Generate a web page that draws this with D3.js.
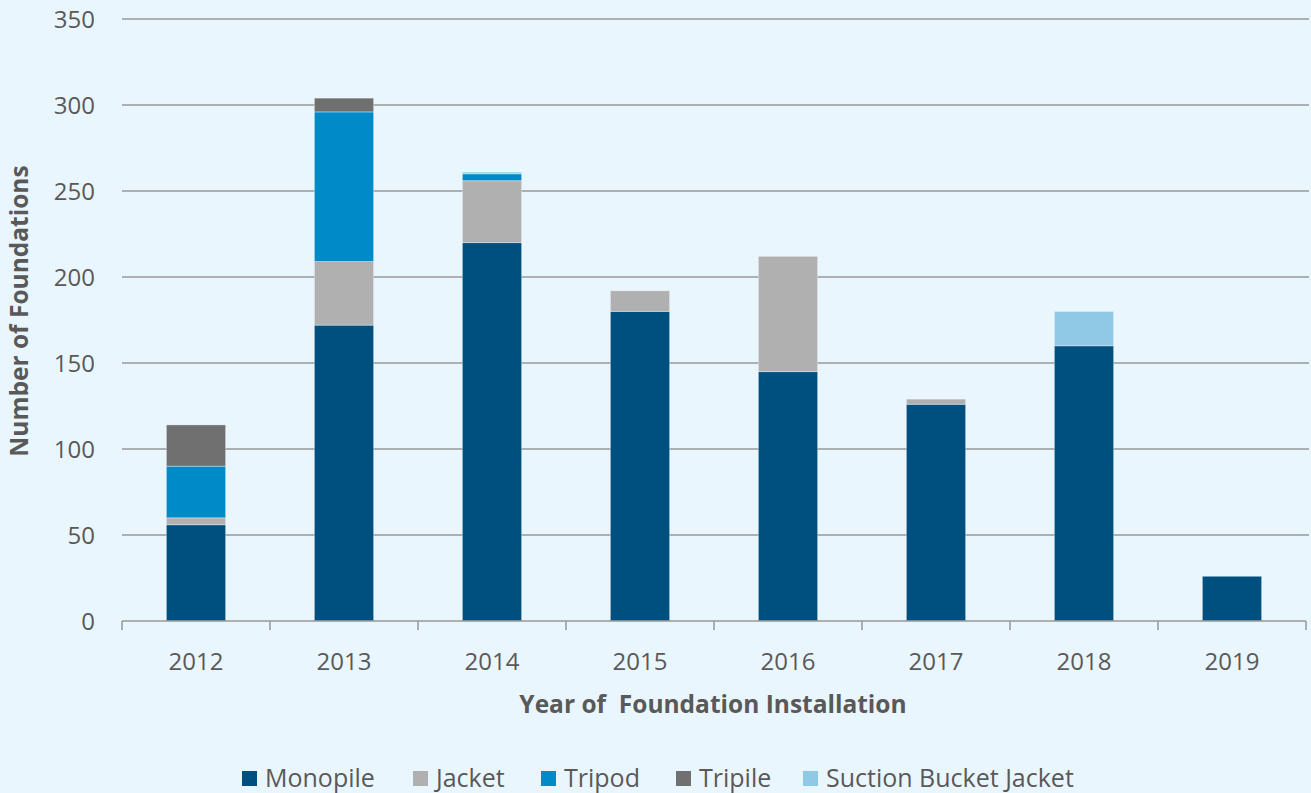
<!DOCTYPE html>
<html>
<head>
<meta charset="utf-8">
<script src="https://cdn.jsdelivr.net/npm/d3@7"></script>
<style>
  body { margin: 0; background: #eaf6fe; }
  svg { display: block; font-family: "Open Sans", sans-serif; }
</style>
</head>
<body>
<svg id="chart" width="1311" height="793"></svg>
<script>
const years = ["2012", "2013", "2014", "2015", "2016", "2017", "2018", "2019"]
const types = ["Monopile", "Jacket", "Tripod", "Tripile", "Suction Bucket Jacket"]
const monopile = [56, 172, 220, 180, 145, 126, 160, 26]
const jacket = [4, 37, 36, 12, 67, 3, 0, 0]
const tripod = [30, 87, 4, 0, 0, 0, 0, 0]
const tripile = [24, 8, 0, 0, 0, 0, 0, 0]
const suction = [0, 0, 1, 0, 0, 0, 20, 0]
const yTicks = [0, 50, 100, 150, 200, 250, 300, 350]

const colors = ["#00507f", "#b0b0b0", "#008bc8", "#707070", "#8ecae6"]

const w = 1311
const h = 793
const svg = d3.select("#chart")

const x = d3.scaleBand(years, [122, 1306]).paddingInner(0.6).paddingOuter(0.3)
const y = d3.scaleLinear([0, 350], [621, 19])

const rows = years.map((yr, i) => ({
  year: yr,
  Monopile: monopile[i],
  Jacket: jacket[i],
  Tripod: tripod[i],
  Tripile: tripile[i],
  "Suction Bucket Jacket": suction[i],
}))
const series = d3.stack().keys(types)(rows)

// gridlines
svg
  .append("g")
  .selectAll("line.grid")
  .data(yTicks.filter((d) => d > 0))
  .join("line")
  .attr("x1", 122)
  .attr("x2", 1309)
  .attr("y1", (d) => y(d))
  .attr("y2", (d) => y(d))
  .attr("stroke", "#999")
  .attr("stroke-width", 1.5)

// y labels
svg
  .append("g")
  .selectAll("text")
  .data(yTicks)
  .join("text")
  .attr("x", 95)
  .attr("y", (d) => y(d) + 9)
  .attr("text-anchor", "end")
  .attr("fill", "#595959")
  .attr("font-size", 24)
  .text((d) => d)

// bars
svg
  .append("g")
  .selectAll("g.layer")
  .data(series)
  .join("g")
  .classed("layer", true)
  .attr("fill", (d, i) => colors[i])
  .selectAll("rect")
  .data((d) => d.filter((s) => s[1] > s[0]))
  .join("rect")
  .attr("x", (d) => x(d.data.year))
  .attr("width", x.bandwidth())
  .attr("y", (d) => y(d[1]))
  .attr("height", (d) => y(d[0]) - y(d[1]))
  .attr("stroke", "rgba(255,255,255,0.35)")
  .attr("stroke-width", 1)

// x axis baseline with boundary ticks
const step = x.step()
const bounds = d3.range(years.length + 1).map((i) => 122 + i * step)
svg
  .append("line")
  .attr("x1", 122)
  .attr("x2", 1306)
  .attr("y1", 621)
  .attr("y2", 621)
  .attr("stroke", "#999")
  .attr("stroke-width", 1.5)
svg
  .append("g")
  .selectAll("line")
  .data(bounds)
  .join("line")
  .attr("x1", (d) => d)
  .attr("x2", (d) => d)
  .attr("y1", 621)
  .attr("y2", 630)
  .attr("stroke", "#999")
  .attr("stroke-width", 1.5)

svg
  .append("g")
  .selectAll("text")
  .data(years)
  .join("text")
  .attr("x", (d) => x(d) + x.bandwidth() / 2)
  .attr("y", 670)
  .attr("text-anchor", "middle")
  .attr("fill", "#595959")
  .attr("font-size", 24)
  .text((d) => d)

// axis titles
svg
  .append("text")
  .attr("x", 713)
  .attr("y", 713)
  .attr("text-anchor", "middle")
  .attr("fill", "#595959")
  .attr("font-size", 24.5)
  .attr("font-weight", "bold")
  .attr("xml:space", "preserve")
  .style("white-space", "pre")
  .text("Year of  Foundation Installation")

svg
  .append("text")
  .attr("transform", "translate(28, 311) rotate(-90)")
  .attr("text-anchor", "middle")
  .attr("fill", "#595959")
  .attr("font-size", 24.5)
  .attr("font-weight", "bold")
  .text("Number of Foundations")

// legend
const legendX = [242, 413, 541, 676, 803]
const legend = svg
  .append("g")
  .selectAll("g")
  .data(types)
  .join("g")
  .attr("transform", (d, i) => `translate(${legendX[i]}, 771)`)
legend
  .append("rect")
  .attr("width", 15)
  .attr("height", 15)
  .attr("fill", (d, i) => colors[i])
legend
  .append("text")
  .attr("x", 23)
  .attr("y", 16)
  .attr("fill", "#595959")
  .attr("font-size", 25)
  .text((d) => d)
</script>
</body>
</html>
